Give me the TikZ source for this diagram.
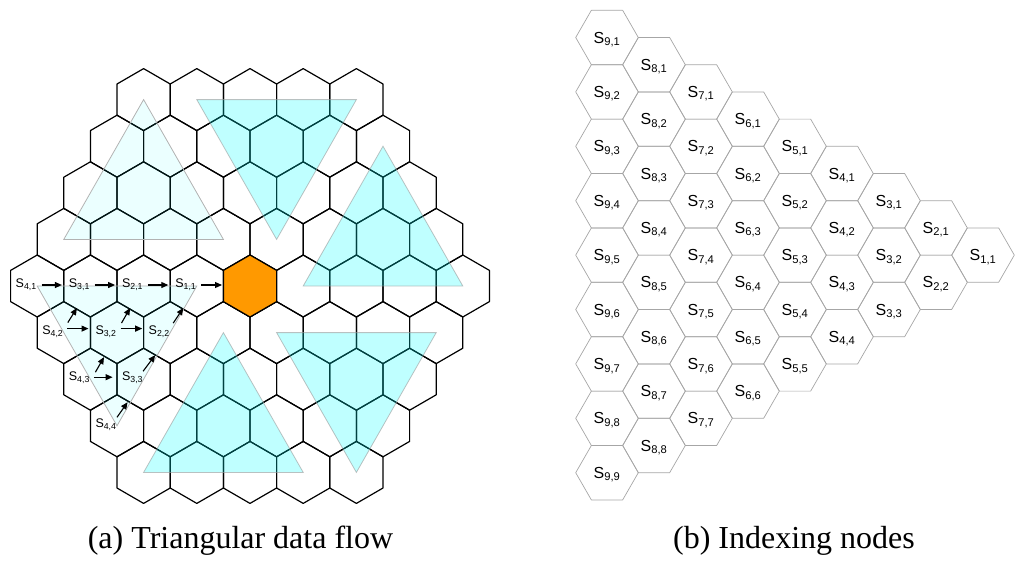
\documentclass[tikz,border=0pt]{standalone}
\usepackage{fontspec}
\setmainfont{Liberation Serif}
\setsansfont{Liberation Sans}
\usetikzlibrary{arrows.meta}
\definecolor{hexorange}{RGB}{255,153,0}
\definecolor{tcyan}{RGB}{0,255,255}
\newcommand{\slab}[2]{S\textsubscript{#1,#2}}
\begin{document}
\begin{tikzpicture}[x=1pt,y=-1pt,
  hexL/.style={draw=black,line width=1.2pt,line join=round},
  hexR/.style={draw=black!35,line width=0.7pt,line join=round},
  trisolid/.style={fill=tcyan,fill opacity=0.25,draw=black!40,draw opacity=0.6,line width=0.8pt},
  trilight/.style={fill=tcyan,fill opacity=0.08,draw=black!30,line width=0.8pt},
  labL/.style={font=\sffamily\fontsize{12.5}{14}\selectfont,inner sep=0pt,anchor=base},
  labR/.style={font=\sffamily\fontsize{16}{18}\selectfont,inner sep=0pt,anchor=base},
  flow/.style={line width=1.1pt,-{Triangle[length=7pt,width=6pt]}},
  captxt/.style={font=\fontsize{32}{38}\selectfont,inner sep=0pt,anchor=base}]
\useasboundingbox (0,0) rectangle (1024,568);

% ---------- (a) hexagonal grid ----------
\foreach \k in {-4,...,4} {
  \pgfmathtruncatemacro\n{9-abs(\k)}
  \foreach \i in {1,...,\n} {
    \pgfmathsetmacro\hx{250-(8-abs(\k))*26.6+(\i-1)*53.2}
    \pgfmathsetmacro\hy{286+\k*46.6}
    \coordinate (h\k_\i) at (\hx,\hy);
    \draw[hexL] (\hx,\hy) +(0,-31) -- +(26.6,-15.6) -- +(26.6,15.6) -- +(0,31)
      -- +(-26.6,15.6) -- +(-26.6,-15.6) -- cycle;
  }
}
% centre node
\draw[hexL,fill=hexorange] (h0_5) +(0,-31) -- +(26.6,-15.6) -- +(26.6,15.6) -- +(0,31)
  -- +(-26.6,15.6) -- +(-26.6,-15.6) -- cycle;

% triangles
\draw[trilight] (h-4_1) -- (h-1_1) -- (h-1_4) -- cycle;
\draw[trisolid] (h-4_2) -- (h-4_5) -- (h-1_5) -- cycle;
\draw[trisolid] (h-3_6) -- (h0_6) -- (h0_9) -- cycle;
\draw[trisolid] (h1_5) -- (h1_8) -- (h4_5) -- cycle;
\draw[trisolid] (h1_4) -- (h4_1) -- (h4_4) -- cycle;
\draw[trilight] (h0_1) -- (h0_4) -- (h3_1) -- cycle;

% labels
\node[labL] (l41) at ([shift={(-11,1.5)}]h0_1) {\slab{4}{1}};
\node[labL] (l31) at ([shift={(-11,1.5)}]h0_2) {\slab{3}{1}};
\node[labL] (l21) at ([shift={(-11,1.5)}]h0_3) {\slab{2}{1}};
\node[labL] (l11) at ([shift={(-11,1.5)}]h0_4) {\slab{1}{1}};
\node[labL] (l42) at ([shift={(-11,1.5)}]h1_1) {\slab{4}{2}};
\node[labL] (l32) at ([shift={(-11,1.5)}]h1_2) {\slab{3}{2}};
\node[labL] (l22) at ([shift={(-11,1.5)}]h1_3) {\slab{2}{2}};
\node[labL] (l43) at ([shift={(-11,1.5)}]h2_1) {\slab{4}{3}};
\node[labL] (l33) at ([shift={(-11,1.5)}]h2_2) {\slab{3}{3}};
\node[labL] (l44) at ([shift={(-11,1.5)}]h3_1) {\slab{4}{4}};

% horizontal flows
\draw[flow] ([shift={(4.3,-1)}]h0_1) -- ([shift={(-28.5,-1)}]h0_2);
\draw[flow] ([shift={(4.3,-1)}]h0_2) -- ([shift={(-28.5,-1)}]h0_3);
\draw[flow] ([shift={(4.3,-1)}]h0_3) -- ([shift={(-28.5,-1)}]h0_4);
\draw[flow] ([shift={(4.3,-1)}]h0_4) -- ([shift={(-28,-1)}]h0_5);
\draw[flow] ([shift={(3.5,-4)}]h1_1) -- ([shift={(-28.5,-4)}]h1_2);
\draw[flow] ([shift={(3.5,-4)}]h1_2) -- ([shift={(-28,-4)}]h1_3);
\draw[flow] ([shift={(3.5,-2)}]h2_1) -- ([shift={(-31,-2)}]h2_2);
% diagonal flows
\draw[flow] ([shift={(4,-10)}]h1_1) -- ([shift={(-13.5,22)}]h0_2);
\draw[flow] ([shift={(4.5,-9.5)}]h1_2) -- ([shift={(-13.5,22)}]h0_3);
\draw[flow] ([shift={(3,-9.5)}]h1_3) -- ([shift={(-13.5,22)}]h0_4);
\draw[flow] ([shift={(5,-7)}]h2_1) -- ([shift={(-13,24.5)}]h1_2);
\draw[flow] ([shift={(-0.5,-8)}]h2_2) -- ([shift={(-15,22.5)}]h1_3);
\draw[flow] ([shift={(0,-8.5)}]h3_1) -- ([shift={(-16,23)}]h2_2);

% ---------- (b) indexing grid ----------
\foreach \i in {1,...,9} {
  \pgfmathtruncatemacro\c{9-\i}
  \foreach \j in {1,...,\i} {
    \pgfmathsetmacro\rx{607+47*\c}
    \pgfmathsetmacro\ry{37.5+27.2*\c+54.4*(\j-1)}
    \draw[hexR] (\rx,\ry) +(31.3,0) -- +(15.65,27.2) -- +(-15.65,27.2) -- +(-31.3,0)
      -- +(-15.65,-27.2) -- +(15.65,-27.2) -- cycle;
    \node[labR] (s\i_\j) at (\rx,\ry+5.5) {\slab{\i}{\j}};
  }
}

% captions
\node[captxt] (capa) at (240.5,548) {(a) Triangular data flow};
\node[captxt] (capb) at (794,548) {(b) Indexing nodes};
\end{tikzpicture}
\end{document}
